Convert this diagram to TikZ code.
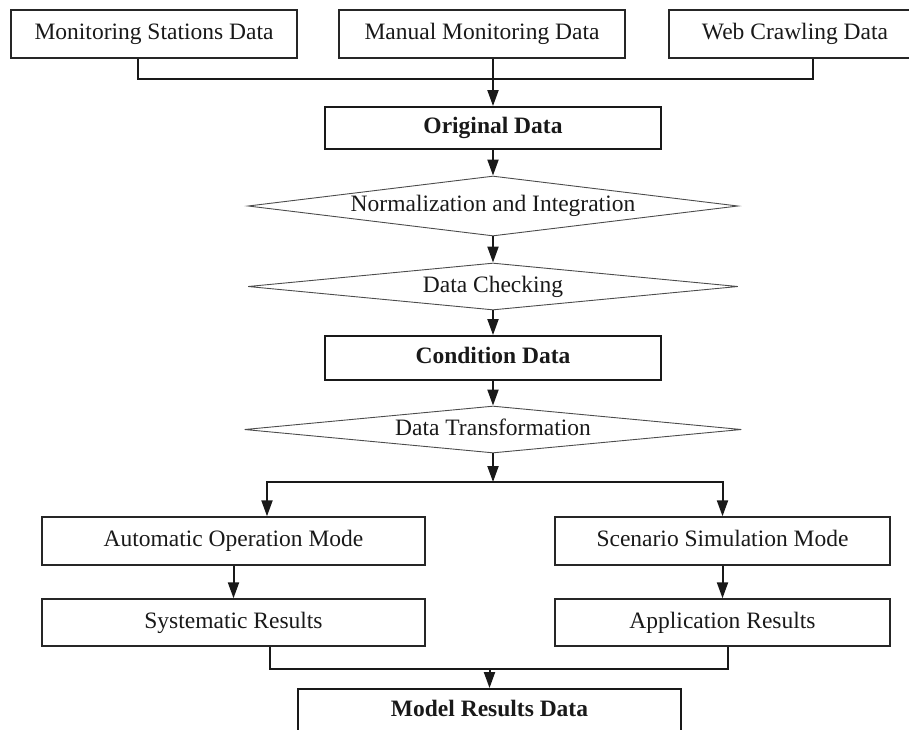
\documentclass[tikz,border=0pt]{standalone}
\usepackage{fontspec}
\setmainfont{Liberation Serif}
\usetikzlibrary{shapes.geometric,arrows.meta}

\tikzset{
  every node/.style={font=\fontsize{23.5}{27}\selectfont, text=black!90, text height=16pt, text depth=5pt},
  procbox/.style={draw=black!85, line width=1.4pt, rectangle, inner sep=0pt},
  databox/.style={draw=black!90, line width=1.9pt, rectangle, inner sep=0pt, font=\fontsize{23.5}{27}\selectfont\bfseries},
  decision/.style={draw=black!70, line width=0.9pt, diamond, aspect=8, inner sep=0pt},
  link/.style={draw=black!90, line width=2pt},
  flow/.style={link, -{Triangle[length=16pt,width=11pt]}}
}

\begin{document}
\begin{tikzpicture}[x=1pt,y=-1pt]
  \useasboundingbox (0,0) rectangle (909,729);
  \clip (0,0) rectangle (909,729);

  % sources
  \node[procbox, minimum width=286, minimum height=48] (mon) at (154,34) {Monitoring Stations Data};
  \node[procbox, minimum width=286, minimum height=48] (man) at (482,34) {Manual Monitoring Data};
  \node[procbox, minimum width=252, minimum height=48] (web) at (795,34) {Web Crawling Data};

  % main chain
  \node[databox, minimum width=336, minimum height=42] (orig) at (493,128) {Original Data};
  \node[decision, minimum width=490, minimum height=60] (norm) at (493,206) {Normalization and Integration};
  \node[decision, minimum width=490, minimum height=47] (check) at (493,286.5) {Data Checking};
  \node[databox, minimum width=336, minimum height=44] (cond) at (493,358) {Condition Data};
  \node[decision, minimum width=497, minimum height=47] (trans) at (493,429.5) {Data Transformation};

  % two modes
  \node[procbox, minimum width=383, minimum height=48] (auto) at (233.5,541) {Automatic Operation Mode};
  \node[procbox, minimum width=335, minimum height=48] (scen) at (722.5,541) {Scenario Simulation Mode};
  \node[procbox, minimum width=383, minimum height=47] (sys) at (233.5,622.5) {Systematic Results};
  \node[procbox, minimum width=335, minimum height=47] (app) at (722.5,622.5) {Application Results};

  % output
  \node[databox, minimum width=383, minimum height=44] (model) at (489.5,711) {Model Results Data};

  % junction points
  \coordinate (bus) at (493,79);
  \coordinate (split) at (493,482);
  \coordinate (merge) at (489.5,669);

  % connectors
  \draw[link] ([xshift=-16pt]mon.south) |- (bus) -| ([xshift=18pt]web.south);
  \draw[flow] (man.south -| orig.north) -- (orig.north);
  \draw[flow] (orig.south) -- (norm.north);
  \draw[flow] (norm.south) -- (check.north);
  \draw[flow] (check.south) -- (cond.north);
  \draw[flow] (cond.south) -- (trans.north);
  \draw[flow] (trans.south) -- (split);
  \draw[flow] (split) -| ([xshift=33.5pt]auto.north);
  \draw[flow] (split) -| (scen.north);
  \draw[flow] (auto.south) -- (sys.north);
  \draw[flow] (scen.south) -- (app.north);
  \draw[link] ([xshift=36.5pt]sys.south) |- (merge) -| ([xshift=5.5pt]app.south);
  \draw[flow] (merge) -- (model.north);
\end{tikzpicture}
\end{document}
